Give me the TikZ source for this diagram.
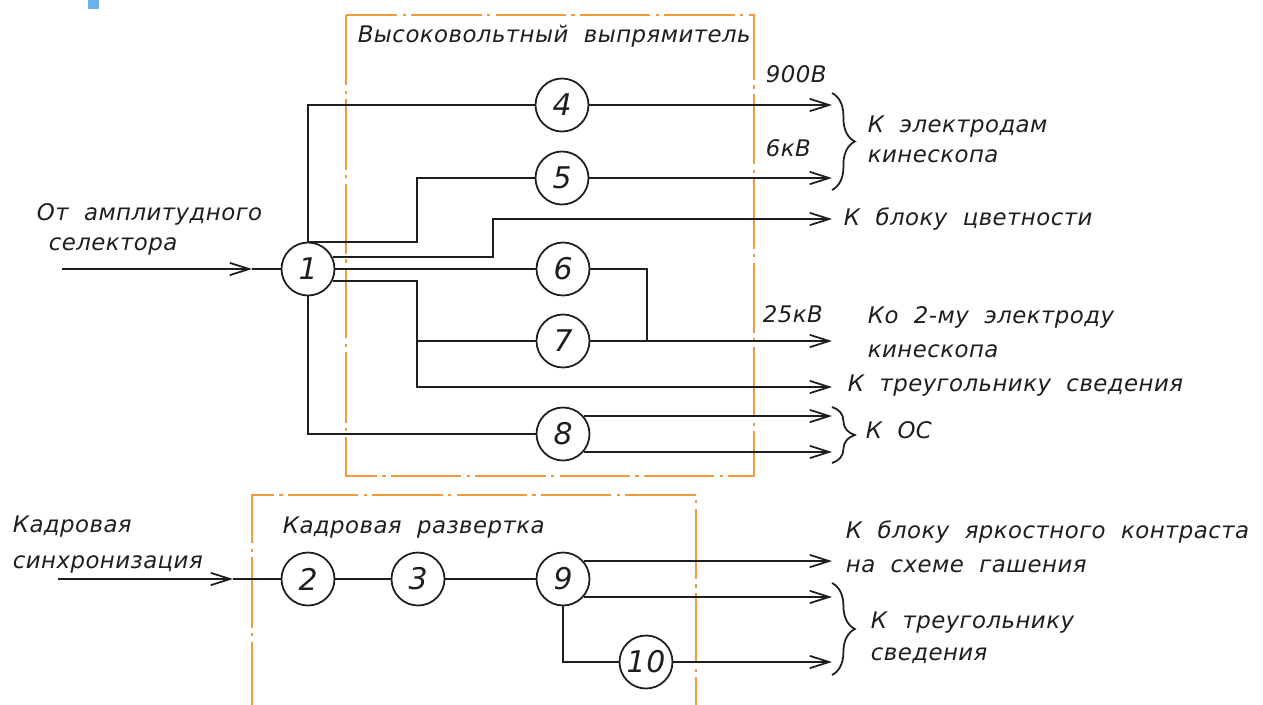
\documentclass[tikz,border=0pt]{standalone}
\usepackage{fontspec}
\usepackage{xcolor}
\usepackage{tikz}
\usetikzlibrary{arrows.meta,calc,decorations.pathreplacing}
\newfontfamily\gost{DejaVu Sans}[LetterSpace=2,WordSpace=2]
\definecolor{ink}{HTML}{1E1E1E}
\definecolor{orng}{HTML}{F29B3C}
\definecolor{tab}{HTML}{6DB1E8}
\tikzset{
  stage/.style={circle,draw=ink,line width=1pt,minimum size=1.06cm,inner sep=0pt,text=ink,font=\gost\itshape\fontsize{17}{17}\selectfont},
  lbl/.style={anchor=base west,inner sep=0pt,text=ink,font=\gost\itshape\fontsize{13}{15}\selectfont},
  zone/.style={draw=orng,line width=0.9pt,dash pattern=on 40pt off 3pt on 2pt off 3pt},
  arrow/.style={-{Straight Barb[length=11pt,width=7pt]}},
  brc/.style={decorate,decoration={brace,amplitude=13pt}},
}

\begin{document}
\begin{tikzpicture}[x=0.02cm,y=-0.02cm,line width=1pt,ink]
    \useasboundingbox (0,0) rectangle (1263,704);
    \fill[tab] (88,0) rectangle (99,9);
    \draw[zone] (346,15) rectangle (754,476);
    \draw[zone] (252,712) -- (252,495) -- (696,495) -- (696,712);
    \node[lbl] (hv) at (357,42) {Высоковольтный выпрямитель};
    \node[lbl] (kr) at (282,533) {Кадровая развертка};
    % stages
    \node[stage] (n1) at (308,269) {1};
    \node[stage] (n4) at (562,105) {4};
    \node[stage] (n5) at (562,178) {5};
    \node[stage] (n6) at (563,269) {6};
    \node[stage] (n7) at (563,341) {7};
    \node[stage] (n8) at (563,434) {8};
    \node[stage] (n2) at (308,579) {2};
    \node[stage] (n3) at (418,579) {3};
    \node[stage] (n9) at (563,579) {9};
    \node[stage] (n10) at (646,662) {10};
    \coordinate (rx) at (832,0);
    \coordinate (in1) at (62,269);
    \coordinate (tip1) at (252,269);
    \coordinate (in2) at (58,579);
    \coordinate (tip2) at (233,579);
    \coordinate (x5) at (417,0);
    \coordinate (jc) at (493,219);
    \coordinate (j7) at (417,387);
    \coordinate (j67) at (647,341);
    % upper block
    \draw[arrow] (in1) -- (tip1);
    \draw (tip1) -- (n1);
    \draw (n1.north) |- (n4.west);
    \draw[arrow] (n4.east) -- (n4.east -| rx);
    \draw (n1.north) -| (x5 |- n5) -- (n5.west);
    \draw[arrow] (n5.east) -- (n5.east -| rx);
    \draw[arrow] (n1.26) -| (jc) -- (jc -| rx);
    \draw (n1.east) -- (n6.west);
    \draw (n6.east) -| (j67);
    \draw[arrow] (n1.-26) -| (j7) -- (j7 -| rx);
    \draw (j7 |- n7) -- (n7.west);
    \draw[arrow] (n7.east) -- (n7.east -| rx);
    \draw (n1.south) |- (n8.west);
    \draw[arrow] (n8.41) -- (n8.41 -| rx);
    \draw[arrow] (n8.-41) -- (n8.-41 -| rx);
    % lower block
    \draw[arrow] (in2) -- (tip2);
    \draw (tip2) -- (n2) -- (n3) -- (n9);
    \draw[arrow] (n9.41) -- (n9.41 -| rx);
    \draw[arrow] (n9.-41) -- (n9.-41 -| rx);
    \draw (n9.south) |- (n10.west);
    \draw[arrow] (n10.east) -- (n10.east -| rx);
    % braces
    \draw[brc] (832,93) -- (832,190);
    \draw[brc] (832,407) -- (832,463);
    \draw[brc] (832,583) -- (832,675);
    % labels
    \node[lbl] (src1a) at (36,220) {От амплитудного};
    \node[lbl] (src1b) at (48,250) {селектора};
    \node[lbl] (src2a) at (12,532) {Кадровая};
    \node[lbl] (src2b) at (12,568) {синхронизация};
    \node[lbl] (v900) at (765,82) {900В};
    \node[lbl] (v6) at (765,156) {6кВ};
    \node[lbl] (v25) at (762,322) {25кВ};
    \node[lbl] (ela) at (867,132) {К электродам};
    \node[lbl] (elb) at (867,162) {кинескопа};
    \node[lbl] (cvt) at (843,225) {К блоку цветности};
    \node[lbl] (e2a) at (867,323) {Ко 2-му электроду};
    \node[lbl] (e2b) at (867,357) {кинескопа};
    \node[lbl] (tri) at (847,391) {К треугольнику сведения};
    \node[lbl] (fb) at (865,438) {К ОС};
    \node[lbl] (bra) at (845,538) {К блоку яркостного контраста};
    \node[lbl] (brb) at (845,572) {на схеме гашения};
    \node[lbl] (tra) at (870,628) {К треугольнику};
    \node[lbl] (trb) at (870,660) {сведения};
\end{tikzpicture}
\end{document}
